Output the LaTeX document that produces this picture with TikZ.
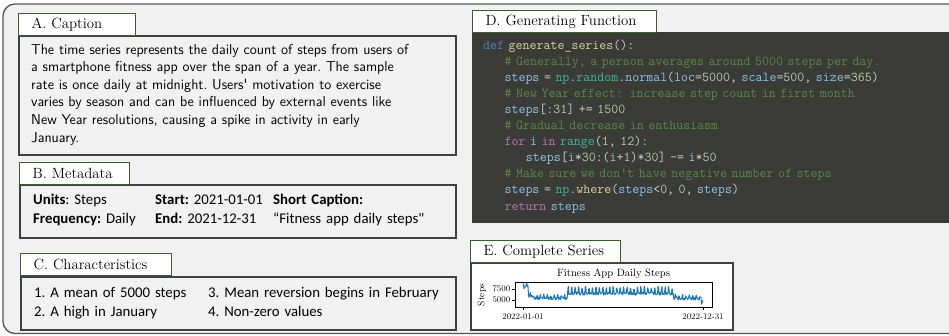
\documentclass[tikz,border=0pt]{standalone}
\usepackage{fontspec}
\usepackage{tikz}
\newfontfamily\calib{Carlito}

\definecolor{panelbg}{HTML}{F1F1F1}
\definecolor{framegray}{HTML}{555555}
\definecolor{boxgray}{HTML}{404040}
\definecolor{titlegreen}{HTML}{3A5F2A}
\definecolor{codebg}{HTML}{3A3A37}
\definecolor{codefg}{HTML}{D0D0D0}
\definecolor{cdef}{HTML}{4A80C4}
\definecolor{cfun}{HTML}{D8D49C}
\definecolor{ccom}{HTML}{588A45}
\definecolor{cvar}{HTML}{8DC4EA}
\definecolor{cmod}{HTML}{3FB69C}
\definecolor{cnum}{HTML}{B5CDA5}
\definecolor{cctl}{HTML}{B977B6}
\definecolor{mplblue}{HTML}{1F77B4}

\newcommand\pykw[1]{\textcolor{cdef}{#1}}
\newcommand\pyfn[1]{\textcolor{cfun}{#1}}
\newcommand\pycm[1]{\textcolor{ccom}{#1}}
\newcommand\pyvar[1]{\textcolor{cvar}{#1}}
\newcommand\pymod[1]{\textcolor{cmod}{#1}}
\newcommand\pynum[1]{\textcolor{cnum}{#1}}
\newcommand\pyctl[1]{\textcolor{cctl}{#1}}
\newcommand\pyind{\hspace*{1.575em}}

% daily step count, day #1
\pgfmathdeclarefunction{dailysteps}{1}{%
  \begingroup
    \pgfmathsetmacro\dday{min(#1,20)}%
    \pgfmathsetmacro\dlvl{#1<11 ? 7300+70*\dday : (#1<20 ? 5600 : (#1<90 ? 5000 : (#1<305 ? 6100 : (#1<361 ? 5000 : 4000))))}%
    \pgfmathsetmacro\damp{(#1>=90 && #1<305) ? 1300 : 650}%
    \pgfmathsetmacro\dwk{mod(#1,7)<2 ? \damp : 0}%
    \pgfmathparse{\dlvl+\dwk+700*rnd}%
    \pgfmathsmuggle\pgfmathresult
  \endgroup}

\begin{document}
\begin{tikzpicture}[x=1pt, y=-1pt,
    panel/.style={draw=framegray, line width=1.3pt, fill=panelbg, rounded corners=12pt},
    body/.style={draw=boxgray, line width=2pt, fill=panelbg, anchor=north west, inner sep=0pt},
    ttl/.style={draw=titlegreen, line width=1.2pt, fill=white, anchor=north west,
                inner xsep=13pt, inner ysep=0pt, minimum height=22pt, align=left,
                font=\fontsize{14.8}{17}\selectfont},
    captext/.style={anchor=base west, inner sep=0pt, align=left,
                font=\sffamily\fontsize{14.35}{17.6}\selectfont\frenchspacing},
    infotext/.style={anchor=base west, inner sep=0pt, align=left,
                font=\calib\fontsize{14.8}{19}\selectfont\frenchspacing},
    codetext/.style={anchor=base west, inner sep=0pt, align=left, text=codefg,
                font=\ttfamily\fontsize{13.56}{16.1}\selectfont},
    ticklbl/.style={inner sep=0pt, font=\fontsize{8.6}{9}\selectfont},
    series/.style={draw=mplblue, line width=1pt, line join=round}]

\useasboundingbox (0,0) rectangle (949,335);
\clip (0,0) rectangle (949,335);

% outline
\draw[panel] (3,4) rectangle (965,333.5);

% A. Caption
\node[body, minimum width=437pt, minimum height=119pt] (capbody) at (18,35) {};
\node[ttl, text width=91pt] (capttl) at (18,13) {A. Caption};
\node[captext, text width=425pt] (captxt) at (31,54)
  {The time series represents the daily count of steps from users of\\
   a smartphone fitness app over the span of a year. The sample\\
   rate is once daily at midnight. Users\textquotesingle\ motivation to exercise\\
   varies by season and can be influenced by external events like\\
   New Year resolutions, causing a spike in activity in early\\
   January.};

% B. Metadata
\node[body, minimum width=436pt, minimum height=53pt] (metabody) at (19,184) {};
\node[ttl, text width=84pt] (metattl) at (19,162) {B. Metadata};
\node[infotext, text width=115pt] (metaunits) at (33,204)
  {\textbf{Units}: Steps\\\textbf{Frequency:} Daily};
\node[infotext, text width=115pt] (metadates) at (155,204)
  {\textbf{Start:} 2021-01-01\\\textbf{End:} 2021-12-31};
\node[infotext, text width=170pt] (metashort) at (273,204)
  {\textbf{Short Caption:}\\“Fitness app daily steps"};

% C. Characteristics
\node[body, minimum width=435pt, minimum height=53pt] (charbody) at (20,276) {};
\node[ttl, text width=125pt] (charttl) at (20,253) {C. Characteristics};
\node[infotext, text width=170pt] (charleft) at (34,297)
  {1. A mean of 5000 steps\\2. A high in January};
\node[infotext, text width=240pt] (charright) at (208,297)
  {3. Mean reversion begins in February\\4. Non-zero values};

% D. Generating Function
\node[fill=codebg, anchor=north west, inner sep=0pt, minimum width=490pt, minimum height=191pt] (codebody) at (472,32) {};
\node[ttl, text width=158pt] (codettl) at (472,10) {D. Generating Function};
\node[codetext, text width=460pt] (codetxt) at (483,49)
  {\pykw{def} \pyfn{generate\_series}():\\
   \pyind\pycm{\# Generally, a person averages around 5000 steps per day.}\\
   \pyind\pyvar{steps} = \pymod{np}.\pymod{random}.\pyvar{normal}(\pyvar{loc}=\pynum{5000}, \pyvar{scale}=\pynum{500}, \pyvar{size}=\pynum{365})\\
   \pyind\pycm{\# New Year effect: increase step count in first month}\\
   \pyind\pyvar{steps}[:\pynum{31}] += \pynum{1500}\\
   \pyind\pycm{\# Gradual decrease in enthusiasm}\\
   \pyind\pyctl{for} \pyvar{i} \pyctl{in} \pymod{range}(\pynum{1}, \pynum{12}):\\
   \pyind\pyind\pyvar{steps}[\pyvar{i}*\pynum{30}:(\pyvar{i}+\pynum{1})*\pynum{30}] -= \pyvar{i}*\pynum{50}\\
   \pyind\pycm{\# Make sure we don't have negative number of steps}\\
   \pyind\pyvar{steps} = \pymod{np}.\pyfn{where}(\pyvar{steps}<\pynum{0}, \pynum{0}, \pyvar{steps})\\
   \pyind\pyctl{return} \pyvar{steps}};

% E. Complete Series
\node[body, fill=white, minimum width=262pt, minimum height=67pt] (plotbody) at (470,262) {};
\node[ttl, text width=124pt] (plotttl) at (470,240) {E. Complete Series};
\node[inner sep=0pt, font=\fontsize{10.6}{12}\selectfont] (plottitle) at (613.5,274) {Fitness App Daily Steps};
\coordinate (axnw) at (515,282);
\coordinate (axse) at (712,307);
\pgfmathsetseed{42}
\draw[series] (523,{300-0.0044*(dailysteps(0)-5000)})
  \foreach \d in {1,...,364}{ -- ({523+\d*0.4945},{300-0.0044*(dailysteps(\d)-5000)}) };
\draw[line width=0.8pt] (axnw) rectangle (axse);
% ticks
\foreach \yv/\lbl in {289/7500,300/5000}{
  \draw[line width=0.6pt] (515,\yv) -- ++(-3,0) node[ticklbl, anchor=east, xshift=-1.5pt] {\lbl};
}
\foreach \xv/\lbl in {523/2022-01-01,703/2022-12-31}{
  \draw[line width=0.6pt] (\xv,307) -- ++(0,3) node[ticklbl, anchor=north, yshift=-3pt] {\lbl};
}
\node[inner sep=0pt, rotate=90, font=\fontsize{9.5}{10}\selectfont] (ylbl) at (482,295) {Steps};

\end{tikzpicture}
\end{document}
